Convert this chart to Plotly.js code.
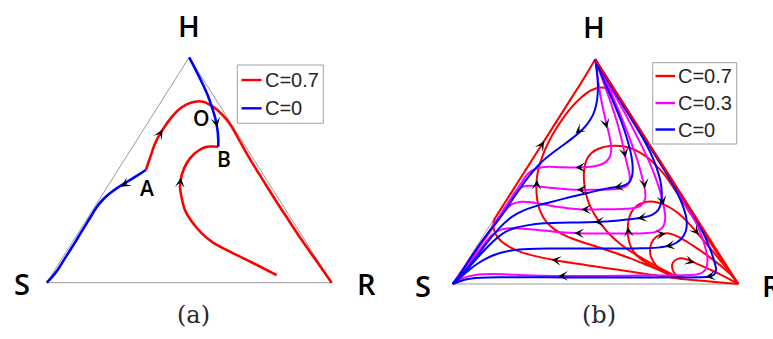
<!DOCTYPE html>
<html>
<head>
<meta charset="utf-8">
<script src="https://cdn.plot.ly/plotly-3.0.1.min.js"></script>
<style>
  html, body { margin: 0; padding: 0; background: #fff; }
  #chart { width: 773px; height: 339px; }
</style>
</head>
<body>
<div id="chart"></div>
<script>
// Simplex drawn in projected coordinates: S=(0,0), R=(100,0), H=(50,100)
const vertexNames = ['S', 'R', 'H'];
const panelNames = ['(a)', '(b)'];
const pointNames = ['O', 'B', 'A'];
const seriesA = ['C=0.7', 'C=0'];
const seriesB = ['C=0.7', 'C=0.3', 'C=0'];

// ---- panel (a) trajectories ----
const aBlueHtoB = [[50.0,100],[51.4,96.6],[53.2,92.1],[54.9,87.7],[56.7,82.5],[58.1,77.4],[59.3,72.2],[60.0,67.0],[60.2,63.3],[60.2,60.3]];
const aRedToB = [[80.7,3.4],[76.0,6.4],[70.2,10.1],[64.3,13.8],[58.5,17.7],[54.4,21.9],[50.9,27.1],[48.5,32.3],[47.4,37.4],[46.8,42.6],[47.4,47.8],[49.1,53.0],[52.0,57.4],[55.5,60.1],[58.2,60.4],[60.2,60.3]];
const aRedAtoR = [[34.8,50.0],[35.6,53.0],[36.6,56.7],[37.8,61.1],[39.2,64.8],[41.2,68.9],[43.5,72.9],[46.2,76.6],[49.1,79.1],[52.0,80.3],[54.9,80.3],[57.5,78.8],[60.2,76.3],[62.7,73.0],[64.6,69.8],[68.1,62.0],[71.5,54.5],[75.9,45.5],[80.3,36.6],[84.9,27.7],[89.5,18.9],[94.8,9.4],[100,0]];
const aBlueAtoS = [[34.8,50.0],[31.6,47.4],[28.4,44.9],[25.2,42.4],[22.2,39.7],[19.6,36.7],[17.4,33.3],[15.6,29.6],[13.8,25.9],[11.9,22.0],[10.0,18.0],[8.0,14.0],[6.0,10.0],[4.0,6.0],[2.0,2.7],[0,0]];
// flow arrows: tail x, tail y, head x, head y
const aArrows = [[46.8,43.6,47.1,46.6],[39.4,65.2,40.6,67.9],[59.3,72.2,59.85,69.0],[28.8,44.7,26.1,42.6]];
// O, B, A
const aPoints = [[54.4,72.9],[62.2,54.7],[35.1,41.9]];

// ---- panel (b) trajectories, C=0.7 ----
const bRedEdge = [[49.9,100],[100,0]];
const bRedA = [[80.3,2.2],[74,3.3],[66,4.8],[58,6.3],[50,7.8],[42,9.3],[35,10.8],[29,12.4],[24,14.2],[20,16.4],[17,19],[15.1,22],[14.3,25.2],[14.5,28.4],[16.2,32],[18.6,36.8],[21.2,42],[24,47.6],[27,53.6],[30,59.6],[33,65.6],[36,71.6],[39,77.6],[42,83.6],[45,89.6],[47.5,94.8],[49.9,100]];
const bRedB = [[80.3,2.2],[74.5,5],[68.5,8.2],[62.5,11.3],[56.5,14],[50.5,16.6],[45,18.8],[40,21.2],[35.8,24.2],[32.6,28],[30.6,32.5],[29.6,37.5],[29.3,42.5],[29.5,47.5],[30.3,52.5],[31.7,57.8],[33.5,63],[35.8,68.3],[38.5,73.5],[41.5,78.5],[44.8,82.8],[48.2,86],[51.6,87.4],[54.3,86.8],[56.3,85.2],[57.8,83.5],[60.4,78.3],[63.5,72.1],[67.5,64.1],[72,55.1],[76.5,46.1],[81,37.1],[85.5,28.1],[90,19.1],[95,9.1],[100,0]];
const bRedC = [[80.3,2.2],[75,5.5],[69.5,9.2],[64,13.2],[59,17.5],[55,22],[52,26.5],[49.6,31],[47.8,35.5],[46.6,40.5],[46,45.5],[46,50.5],[46.8,55],[48.6,58.3],[51.5,60.4],[55,61.4],[58.7,61.4],[62.3,60.4],[65.6,58.5],[68.6,55.9],[71.3,52.7],[73.9,49],[76.2,45],[78.5,40.6],[81,35.8],[83.5,30.8],[86.4,25.5],[89.3,20],[92.6,14],[96.2,7],[100,0]];
const bRedD = [[80.3,2.2],[76,4.3],[71.5,6.8],[67.5,9.6],[64.4,12.8],[62.4,16.5],[61.5,20.5],[61.3,24.5],[61.6,28.5],[62.6,32],[64.5,34.8],[67.2,36.4],[70.3,36.6],[73.5,35.6],[76.6,33.6],[79.6,30.8],[82.5,27.2],[85.3,23.2],[88.1,19],[91,14.6],[94,10],[97,5.2],[100,0]];
const bRedE = [[80.3,2.2],[77,3.5],[73.8,5.5],[71.2,8.3],[69.6,11.5],[69.1,15],[69.6,18.3],[71.2,20.9],[73.5,22.3],[76.2,22.4],[79,21],[82,18.8],[85.2,16.2],[88.5,13.3],[91.8,10.2],[95,6.9],[97.8,3.6],[100,0]];
const bRedF = [[80.3,2.2],[78.6,3.6],[77.3,5.5],[76.8,7.8],[77.3,9.9],[78.8,11.2],[80.8,11.4],[83,10.5],[85.4,9.1],[88,7.6],[90.8,6],[93.8,4.2],[96.9,2.2],[100,0]];
const bRedG = [[80.3,2.2],[85,1.7],[90,1.1],[95,0.55],[100,0]];

// ---- panel (b) trajectories, C=0.3 ----
const bMag1 = [[49.9,100],[50.5,94],[51.2,88],[52,82],[53,76],[54.1,70],[55.1,64.5],[55.5,60],[55,56.5],[53.3,54],[50.5,52.6],[46.5,52],[42,51.8],[37.5,52],[33.5,52.2],[30,51.6],[27.2,50],[25.3,47.5],[23.8,44.5],[22.2,41.5],[20.6,38.5],[18.8,35],[16.8,31],[14.6,27],[12.3,22.5],[9.9,18],[7.4,13.5],[4.9,9],[2.4,4.5],[0,0]];
const bMag2 = [[49.9,100],[51.6,94],[53.3,88],[55,82],[56.6,76],[58,70],[59.2,64],[60.2,58],[61.2,52.5],[62,48],[61.8,45],[60.3,43.2],[57.5,42.3],[53.5,42],[49,41.9],[44.5,41.9],[40,42.2],[35.5,42.7],[31,43.3],[27,43.7],[24,43],[22,40.5],[20.3,37.5],[18.2,33.5],[15.9,29],[13.5,24.5],[11,20],[8.3,15],[5.6,10],[2.8,5],[0,0]];
const bMag3 = [[49.9,100],[52.2,94],[54.4,88],[56.5,82],[58.5,76],[60.4,70],[62.2,64],[63.9,58],[65.4,52],[66.6,46],[67.4,41],[67.3,37.5],[66,35],[63.5,33.8],[59.5,33.4],[55,33.3],[50,33.2],[45.5,33.2],[41,33.6],[36.5,34.4],[32,35.4],[28,36.3],[24,36.6],[20.8,35.5],[18.6,33],[16.6,29.5],[14.3,25.5],[11.8,21],[9.2,16.5],[6.2,11],[3.2,5.7],[0,0]];
const bMag4 = [[49.9,100],[52.5,94],[55.1,88],[57.7,82],[60.3,76],[62.8,70],[65.2,64],[67.5,58],[69.6,52],[71.4,46],[72.9,40],[74,34],[74.4,29],[73.5,25.2],[71,23.2],[67,22.6],[62,22.5],[56,22.5],[50,22.5],[44,22.6],[38,23],[32,23.8],[26,24.5],[20.5,24.8],[16.5,24],[13.8,21.8],[11.5,18.5],[9,14.5],[6.2,10],[3.2,5.2],[0,0]];
const bMag5 = [[49.9,100],[52.7,94],[55.6,88],[58.6,82],[61.6,76],[64.6,70],[67.6,64],[70.6,58],[73.6,52],[76.6,46],[79.5,40],[82.3,34],[84.9,28],[87,22],[88.5,16],[89.2,11],[88.8,7.2],[87.3,5],[84.5,4.1],[80,3.9],[72,3.8],[62,3.7],[52,3.6],[42,3.6],[32,3.7],[22,4.1],[14,4.4],[8,4.0],[3.5,2.6],[0,0]];

// ---- panel (b) trajectories, C=0 ----
const bBlue0 = [[49.9,100],[50.5,95],[50.8,90],[50.8,85],[50.3,80],[49.2,75.5],[47.3,71.5],[44.8,68],[41.8,64.8],[38.4,61.5],[34.8,58.2],[31.3,54.5],[28.2,50.3],[25.5,46],[23.1,41.6],[20.7,37.2],[18.3,32.6],[15.6,28],[12.7,23.2],[9.9,18.4],[7.2,13.4],[4.7,8.6],[2.3,3.8],[0,0]];
const bBlue1 = [[49.9,100],[51.8,94],[53.8,88],[55.9,82],[57.9,76],[59.7,70],[61.2,64],[62.4,58],[63.0,52.5],[62.8,48],[61.6,45],[59.2,43.5],[55.5,42.8],[51.5,41.8],[47.5,40.6],[43.5,39.4],[39,38],[34.5,36.5],[30,35],[26,33.3],[22.4,31.2],[19.2,28.4],[16.4,25],[14,21.5],[11.5,17.5],[8.8,13],[6,8.5],[3,4],[0,0]];
const bBlue2 = [[49.9,100],[52.6,94],[55.5,88],[58.4,82],[61.3,76],[64.2,70],[67,64],[69.4,58],[71.3,52],[72.6,46.5],[73.2,41],[73,36.5],[72,33],[69.8,30.8],[66.5,29.6],[62,28.8],[56,28],[50,27.6],[44,27.4],[38,27.3],[32,27],[26.5,26.2],[22,25],[18.5,23.2],[15.5,20.5],[12.6,17],[9.6,13],[6.5,8.6],[3.3,4.2],[0,0]];
const bBlue3 = [[49.9,100],[52.8,94],[55.7,88],[58.6,82],[61.6,76],[64.6,70],[67.6,64],[70.6,58],[73.5,52],[76.3,46],[78.8,40],[80.8,34],[81.9,28.5],[81.6,23.5],[79.8,19.8],[76.8,17.4],[72.5,16.3],[66,15.9],[58,15.8],[50,15.8],[42,15.8],[34,15.8],[27,15.6],[21,15],[16,13.6],[11.5,11.2],[7.5,8],[4,4.3],[0,0]];
const bBlue4 = [[49.9,100],[52.9,94],[55.9,88],[58.9,82],[61.9,76],[64.9,70],[67.9,64],[70.9,58],[73.9,52],[76.9,46],[79.9,40],[82.8,34],[85.6,28],[88,22],[90,16],[91.5,10.5],[92.2,6.5],[91.6,4.3],[89.8,3.3],[86,3.0],[78,2.95],[68,2.9],[58,2.9],[48,2.9],[38,2.9],[28,3.0],[18,3.0],[10,2.8],[4.5,2.0],[0,0]];

const bArrows = [
  // C=0.7
  [30.9,61.3,32.0,63.5],[29.4,43.3,29.5,46.3],[37.2,10.4,34.6,10.9],[61.6,22.3,61.4,25.3],
  [72.2,22.0,74.6,22.5],[84.5,24.4,86.2,21.9],[82.3,10.4,84.7,9.5],
  // C=0.3
  [53.4,72.5,54.0,69.3],[45.8,51.9,43.0,51.8],[60.0,59.5,60.5,56.3],[46.3,41.9,43.5,41.9],
  [67.0,45.6,67.3,42.6],[47.8,33.2,45.0,33.2],[73.3,38.0,73.8,35.0],[45.3,22.6,42.6,22.7],
  [39.8,3.6,37.0,3.6],
  // C=0
  [45.2,69.3,43.0,67.0],[59.2,43.5,56.5,43.0],[67.2,29.7,64.6,29.2],[52.3,27.7,49.6,27.6],
  [77.0,17.3,74.4,16.7],[91.0,3.6,88.6,3.1]
];

const simplex = [[0,0],[100,0],[50,100],[0,0]];
// label anchors (page pixels): S, R, H, caption
const aLabelPx = [[21.7,283.5],[366,283],[189,25.3],[193.3,315]];
const bLabelPx = [[422.7,285],[771,285],[593.5,26.7],[599.3,315]];

// ---- styling ----
const RED = '#ff0000', MAG = '#ff00ff', BLUE = '#0000ff';
const W = 773, Hpx = 339;
const RANGE = [-5, 105];

function domX(p0, p100) { const s = (p100 - p0) / 100; return [(p0 + RANGE[0]*s) / W, (p0 + RANGE[1]*s) / W]; }
function domY(p0, p100) { const s = (p0 - p100) / 100; return [1 - (p0 - RANGE[0]*s) / Hpx, 1 - (p0 - RANGE[1]*s) / Hpx]; }
const fx = v => v / W;
const fy = v => 1 - v / Hpx;

function path(pts, color, width, ax, shape) {
  return {
    type: 'scatter', mode: 'lines',
    x: pts.map(p => p[0]), y: pts.map(p => p[1]),
    xaxis: ax === 2 ? 'x2' : 'x', yaxis: ax === 2 ? 'y2' : 'y',
    line: { color: color, width: width, shape: shape || 'spline', smoothing: 1 },
    hoverinfo: 'skip', showlegend: false
  };
}

const traces = [
  path(simplex, '#9a9a9a', 1, 1, 'linear'),
  path(aRedToB, RED, 2.6, 1), path(aRedAtoR, RED, 2.6, 1),
  path(aBlueHtoB, BLUE, 2.6, 1), path(aBlueAtoS, BLUE, 2.6, 1),

  path(simplex, '#9a9a9a', 1, 2, 'linear'),
  path(bRedA, RED, 2, 2), path(bRedB, RED, 2, 2), path(bRedC, RED, 2, 2),
  path(bRedD, RED, 2, 2), path(bRedE, RED, 2, 2), path(bRedF, RED, 2, 2), path(bRedG, RED, 2, 2),
  path(bMag1, MAG, 2, 2), path(bMag2, MAG, 2, 2), path(bMag3, MAG, 2, 2), path(bMag4, MAG, 2, 2), path(bMag5, MAG, 2, 2),
  path(bBlue0, BLUE, 2, 2), path(bBlue1, BLUE, 2, 2), path(bBlue2, BLUE, 2, 2), path(bBlue3, BLUE, 2, 2), path(bBlue4, BLUE, 2, 2),
  path(bRedEdge, RED, 2, 2, 'linear')
];

const annotations = [];
function arrowNotes(list, ax) {
  const xr = ax === 2 ? 'x2' : 'x', yr = ax === 2 ? 'y2' : 'y';
  list.forEach(a => annotations.push({
    x: a[2], y: a[3], ax: a[0], ay: a[1], xref: xr, yref: yr, axref: xr, ayref: yr,
    text: '', showarrow: true, arrowhead: 3, arrowsize: 2.7, arrowwidth: 0.6,
    arrowcolor: '#000', standoff: 0, font: { size: 1 }
  }));
}
arrowNotes(aArrows, 1);
arrowNotes(bArrows, 2);

const letterFont = { family: 'Open Sans', size: 29, color: '#000', weight: 600 };
function labelNotes(pos, idx) {
  vertexNames.forEach((t, i) => annotations.push({
    x: fx(pos[i][0]), y: fy(pos[i][1]), xref: 'paper', yref: 'paper', text: t, showarrow: false,
    xanchor: 'center', yanchor: 'middle', font: letterFont
  }));
  annotations.push({
    x: fx(pos[3][0]), y: fy(pos[3][1]), xref: 'paper', yref: 'paper', text: panelNames[idx], showarrow: false,
    xanchor: 'center', yanchor: 'middle', font: { family: 'DejaVu Serif', size: 24, color: '#2a2a2a' }
  });
}
labelNotes(aLabelPx, 0);
labelNotes(bLabelPx, 1);

pointNames.forEach((t, i) => annotations.push({
  x: aPoints[i][0], y: aPoints[i][1], xref: 'x', yref: 'y', text: t, showarrow: false,
  xanchor: 'center', yanchor: 'middle', font: { family: 'Open Sans', size: 21, color: '#000', weight: 600 }
}));

// legend boxes drawn as shapes + text
const shapes = [];
function legend(names, colors, box, rows, lineX, textX) {
  shapes.push({ type: 'rect', xref: 'paper', yref: 'paper', layer: 'above',
    x0: fx(box[0]), y0: fy(box[1]), x1: fx(box[2]), y1: fy(box[3]),
    line: { color: '#a0a0a0', width: 1 }, fillcolor: '#fff' });
  names.forEach((n, i) => {
    shapes.push({ type: 'line', xref: 'paper', yref: 'paper', layer: 'above',
      x0: fx(lineX[0]), x1: fx(lineX[1]), y0: fy(rows[i]), y1: fy(rows[i]),
      line: { color: colors[i], width: 2.4 } });
    annotations.push({ x: fx(textX), y: fy(rows[i]), xref: 'paper', yref: 'paper', text: n,
      showarrow: false, xanchor: 'left', yanchor: 'middle',
      font: { family: 'Liberation Sans', size: 20, color: '#262626' } });
  });
}
legend(seriesA, [RED, BLUE], [237.3, 65, 323.3, 123.3], [80, 108.3], [241.5, 261.5], 262.5);
legend(seriesB, [RED, MAG, BLUE], [652.7, 62.7, 736.7, 144], [76, 103, 129.5], [655.5, 675], 676);

const hiddenAxis = { range: RANGE, visible: false, fixedrange: true, showgrid: false, zeroline: false };
const layout = {
  width: W, height: Hpx,
  margin: { l: 0, r: 0, t: 0, b: 0 },
  paper_bgcolor: '#fff', plot_bgcolor: 'rgba(0,0,0,0)',
  showlegend: false,
  xaxis: Object.assign({ domain: domX(46.7, 331.7), anchor: 'y' }, hiddenAxis),
  yaxis: Object.assign({ domain: domY(282.7, 57.3), anchor: 'x' }, hiddenAxis),
  xaxis2: Object.assign({ domain: domX(452.7, 738.3), anchor: 'y2' }, hiddenAxis),
  yaxis2: Object.assign({ domain: domY(284, 59.3), anchor: 'x2' }, hiddenAxis),
  annotations: annotations,
  shapes: shapes
};

Plotly.newPlot('chart', traces, layout, { staticPlot: true, displayModeBar: false });
</script>
</body>
</html>
